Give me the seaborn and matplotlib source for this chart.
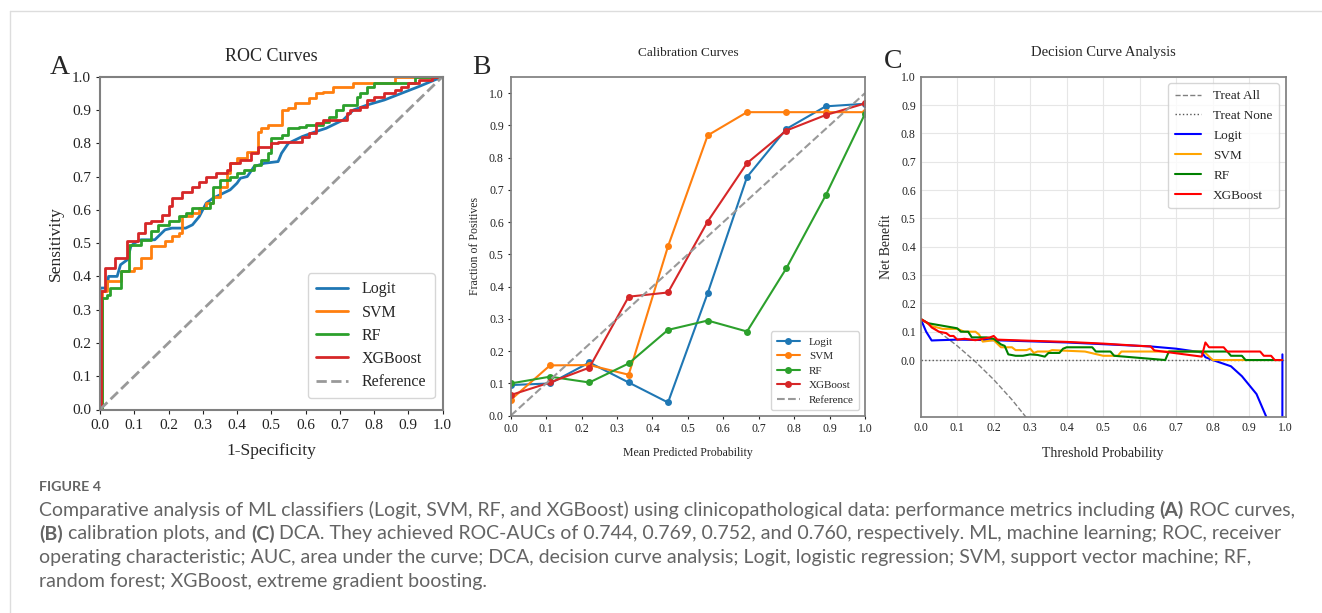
import matplotlib
matplotlib.use("Agg")
import matplotlib.pyplot as plt
import seaborn as sns
from matplotlib.lines import Line2D

# ---- ROC data ----
logit_fpr = [0.0, 0.0, 0.02, 0.025, 0.05, 0.06, 0.08, 0.09, 0.10, 0.12, 0.16, 0.19, 0.21, 0.25, 0.27, 0.29,
             0.31, 0.33, 0.35, 0.37, 0.38, 0.40, 0.41, 0.43, 0.45, 0.48, 0.52, 0.53, 0.55, 0.59, 0.63, 0.66,
             0.69, 0.71, 0.74, 0.78, 0.83, 0.88, 0.93, 1.0]
logit_tpr = [0.0, 0.365, 0.365, 0.40, 0.40, 0.435, 0.45, 0.49, 0.50, 0.51, 0.51, 0.54, 0.545, 0.545, 0.555, 0.58,
             0.62, 0.635, 0.645, 0.655, 0.66, 0.68, 0.695, 0.70, 0.73, 0.74, 0.745, 0.77, 0.80, 0.82, 0.835, 0.845,
             0.86, 0.87, 0.90, 0.915, 0.93, 0.95, 0.97, 1.0]

svm_fpr = [0.0, 0.005, 0.02, 0.06, 0.10, 0.12, 0.15, 0.19, 0.21, 0.23, 0.24, 0.27, 0.29, 0.31, 0.33, 0.35,
           0.37, 0.38, 0.40, 0.43, 0.46, 0.47, 0.49, 0.53, 0.55, 0.57, 0.61, 0.63, 0.65, 0.68, 0.74, 0.86, 1.0]
svm_tpr = [0.0, 0.355, 0.385, 0.415, 0.425, 0.455, 0.49, 0.505, 0.52, 0.53, 0.58, 0.59, 0.605, 0.62, 0.64, 0.67,
           0.71, 0.74, 0.755, 0.775, 0.835, 0.845, 0.855, 0.90, 0.905, 0.92, 0.935, 0.95, 0.955, 0.97, 0.98, 1.0, 1.0]

rf_fpr = [0.0, 0.005, 0.02, 0.03, 0.06, 0.085, 0.12, 0.15, 0.17, 0.20, 0.23, 0.25, 0.27, 0.32, 0.33, 0.35,
          0.38, 0.40, 0.42, 0.45, 0.47, 0.49, 0.50, 0.53, 0.55, 0.58, 0.60, 0.65, 0.67, 0.69, 0.71, 0.73,
          0.75, 0.76, 0.78, 0.80, 0.92, 1.0]
rf_tpr = [0.0, 0.335, 0.345, 0.365, 0.415, 0.495, 0.51, 0.535, 0.555, 0.565, 0.58, 0.59, 0.605, 0.62, 0.67, 0.69,
          0.70, 0.71, 0.72, 0.735, 0.75, 0.77, 0.815, 0.825, 0.845, 0.85, 0.855, 0.865, 0.88, 0.90, 0.915, 0.915,
          0.94, 0.95, 0.97, 0.98, 1.0, 1.0]

xgb_fpr = [0.0, 0.003, 0.015, 0.045, 0.08, 0.11, 0.13, 0.15, 0.18, 0.20, 0.21, 0.24, 0.27, 0.29, 0.31, 0.34,
           0.37, 0.38, 0.41, 0.44, 0.46, 0.50, 0.52, 0.59, 0.61, 0.63, 0.65, 0.68, 0.72, 0.73, 0.76, 0.78,
           0.80, 0.83, 0.86, 0.88, 0.90, 0.93, 0.97, 1.0]
xgb_tpr = [0.0, 0.355, 0.425, 0.455, 0.505, 0.53, 0.56, 0.565, 0.585, 0.61, 0.635, 0.655, 0.67, 0.685, 0.70, 0.71,
           0.72, 0.74, 0.75, 0.77, 0.79, 0.80, 0.805, 0.82, 0.83, 0.86, 0.87, 0.87, 0.89, 0.90, 0.91, 0.93,
           0.94, 0.95, 0.96, 0.97, 0.98, 0.99, 1.0, 1.0]

# ---- calibration data ----
cal_bins = [0.0, 0.111, 0.222, 0.333, 0.444, 0.556, 0.667, 0.778, 0.889, 1.0]
cal_logit = [0.095, 0.100, 0.165, 0.103, 0.041, 0.380, 0.740, 0.889, 0.959, 0.967]
cal_svm = [0.049, 0.156, 0.157, 0.127, 0.525, 0.869, 0.941, 0.941, 0.941, 0.941]
cal_rf = [0.100, 0.121, 0.103, 0.162, 0.266, 0.295, 0.261, 0.457, 0.683, 0.936]
cal_xgb = [0.064, 0.103, 0.149, 0.369, 0.382, 0.602, 0.783, 0.884, 0.932, 0.968]

# ---- decision curve data ----
all_pt = [0.0, 0.05, 0.10, 0.15, 0.20, 0.25, 0.30]
all_nb = [0.145, 0.100, 0.050, -0.006, -0.069, -0.140, -0.220]

dca_logit_pt = [0.0, 0.015, 0.03, 0.05, 0.10, 0.20, 0.40, 0.63, 0.70, 0.77, 0.78, 0.80, 0.85, 0.88, 0.92,
                0.95, 0.97, 0.99, 0.991]
dca_logit_nb = [0.145, 0.10, 0.069, 0.070, 0.072, 0.070, 0.062, 0.048, 0.040, 0.027, 0.010, 0.0, -0.022,
                -0.057, -0.12, -0.21, -0.6, -1.5, 0.02]

dca_svm_pt = [0.0, 0.03, 0.06, 0.10, 0.12, 0.15, 0.16, 0.17, 0.20, 0.22, 0.25, 0.26, 0.29, 0.30, 0.31, 0.32,
              0.35, 0.36, 0.45, 0.50, 0.54, 0.55, 0.77, 0.78, 0.80, 0.89, 0.99]
dca_svm_nb = [0.145, 0.12, 0.11, 0.11, 0.10, 0.10, 0.09, 0.065, 0.07, 0.045, 0.045, 0.035, 0.035, 0.04, 0.025,
              0.03, 0.03, 0.035, 0.03, 0.015, 0.015, 0.03, 0.03, 0.025, 0.0, 0.0, 0.0]

dca_rf_pt = [0.0, 0.02, 0.10, 0.11, 0.13, 0.14, 0.18, 0.20, 0.21, 0.22, 0.23, 0.24, 0.26, 0.28, 0.30, 0.32,
             0.34, 0.35, 0.38, 0.39, 0.40, 0.47, 0.48, 0.52, 0.53, 0.67, 0.68, 0.84, 0.85, 0.88, 0.89, 0.99]
dca_rf_nb = [0.145, 0.13, 0.112, 0.10, 0.10, 0.08, 0.08, 0.075, 0.065, 0.055, 0.05, 0.02, 0.015, 0.015, 0.02,
             0.018, 0.012, 0.025, 0.025, 0.04, 0.045, 0.045, 0.03, 0.03, 0.015, 0.0, 0.03, 0.03, 0.015, 0.015,
             0.0, 0.0]

dca_xgb_pt = [0.0, 0.02, 0.03, 0.05, 0.07, 0.08, 0.09, 0.10, 0.12, 0.15, 0.19, 0.20, 0.21, 0.30, 0.40, 0.50,
              0.60, 0.63, 0.64, 0.77, 0.78, 0.79, 0.83, 0.84, 0.93, 0.94, 0.96, 0.97, 0.99]
dca_xgb_nb = [0.145, 0.13, 0.115, 0.10, 0.095, 0.085, 0.085, 0.072, 0.075, 0.07, 0.08, 0.085, 0.072, 0.068,
              0.064, 0.058, 0.05, 0.048, 0.034, 0.012, 0.062, 0.045, 0.045, 0.03, 0.03, 0.015, 0.015, 0.0, 0.0]

model_names = ["Logit", "SVM", "RF", "XGBoost"]
tab_colors = sns.color_palette("tab10", 4)
dca_colors = ["blue", "orange", "green", "red"]

caption_head = "FIGURE 4"
caption_lines = [
    [("Comparative analysis of ML classifiers (Logit, SVM, RF, and XGBoost) using clinicopathological data: "
      "performance metrics including ", False), ("(A)", True), (" ROC curves,", False)],
    [("(B)", True), (" calibration plots, and ", False), ("(C)", True),
     (" DCA. They achieved ROC-AUCs of 0.744, 0.769, 0.752, and 0.760, respectively. ML, machine learning; "
      "ROC, receiver", False)],
    [("operating characteristic; AUC, area under the curve; DCA, decision curve analysis; Logit, logistic "
      "regression; SVM, support vector machine; RF,", False)],
    [("random forest; XGBoost, extreme gradient boosting.", False)],
]

sns.set_theme(style="white")
plt.rcParams["font.family"] = ["Liberation Serif", "DejaVu Serif"]
plt.rcParams["axes.edgecolor"] = "#808080"
plt.rcParams["xtick.bottom"] = True
plt.rcParams["ytick.left"] = True
plt.rcParams["xtick.color"] = "#222222"
plt.rcParams["ytick.color"] = "#222222"

W, H = 1322, 613
fig = plt.figure(figsize=(W / 100, H / 100), dpi=100)


def px_axes(l, t, r, b):
    return fig.add_axes([l / W, 1 - b / H, (r - l) / W, (b - t) / H])


# ---------- A: ROC ----------
ax1 = px_axes(100, 76.7, 442.5, 409.5)
sns.lineplot(x=logit_fpr, y=logit_tpr, ax=ax1, color=tab_colors[0], lw=2, sort=False, estimator=None,
             label="Logit")
sns.lineplot(x=svm_fpr, y=svm_tpr, ax=ax1, color=tab_colors[1], lw=2, sort=False, estimator=None,
             drawstyle="steps-post", label="SVM")
sns.lineplot(x=rf_fpr, y=rf_tpr, ax=ax1, color=tab_colors[2], lw=2, sort=False, estimator=None,
             drawstyle="steps-post", label="RF")
sns.lineplot(x=xgb_fpr, y=xgb_tpr, ax=ax1, color=tab_colors[3], lw=2, sort=False, estimator=None,
             drawstyle="steps-post", label="XGBoost")
sns.lineplot(x=[0, 1], y=[0, 1], ax=ax1, color="#999999", lw=2, linestyle="--", label="Reference")
ax1.set_xlim(0, 1)
ax1.set_ylim(0, 1)
ax1.set_xticks([i / 10 for i in range(11)])
ax1.set_yticks([i / 10 for i in range(11)])
ax1.tick_params(labelsize=11, length=3, width=0.8)
ax1.set_xlabel("1-Specificity", fontsize=12.5, labelpad=8)
ax1.set_ylabel("Sensitivity", fontsize=12.5, labelpad=6)
ax1.set_title("ROC Curves", fontsize=13, pad=11)
for s in ax1.spines.values():
    s.set_linewidth(1.5)
ax1.legend(loc="lower right", fontsize=11.5, handlelength=2.0, borderpad=0.5, labelspacing=0.45,
           handletextpad=0.9, bbox_to_anchor=(1.0, 0.01))
fig.text(50 / W, 1 - 68 / H, "A", fontsize=20, va="center", ha="left")

# ---------- B: calibration ----------
ax2 = px_axes(510.7, 77, 865, 415.7)
for vals, name, col in zip([cal_logit, cal_svm, cal_rf, cal_xgb], model_names, tab_colors):
    sns.lineplot(x=cal_bins, y=vals, ax=ax2, color=col, lw=1.5, marker="o", markersize=5,
                 markeredgewidth=0, sort=False, estimator=None, label=name)
sns.lineplot(x=[0, 1], y=[0, 1], ax=ax2, color="#999999", lw=1.5, linestyle="--", label="Reference")
ax2.set_xlim(0, 1)
ax2.set_ylim(0, 1.05)
ax2.set_xticks([i / 10 for i in range(11)])
ax2.set_yticks([i / 10 for i in range(11)])
ax2.tick_params(labelsize=8.5, length=2.5, width=0.8, pad=2.5)
ax2.set_xlabel("Mean Predicted Probability", fontsize=8.5, labelpad=9)
ax2.set_ylabel("Fraction of Positives", fontsize=8.5, labelpad=6)
ax2.set_title("Calibration Curves", fontsize=9.5, pad=15)
ax2.legend(loc="lower right", fontsize=8, handlelength=2.1, borderpad=0.5, labelspacing=0.42,
           handletextpad=0.8, bbox_to_anchor=(1.0, 0.0))
fig.text(472 / W, 1 - 67 / H, "B", fontsize=20, va="center", ha="left")

# ---------- C: decision curve ----------
ax3 = px_axes(920.7, 76.7, 1285.7, 416.7)
ax3.grid(True, color="#e6e6e6", lw=0.8)
ax3.set_axisbelow(True)
sns.lineplot(x=all_pt, y=all_nb, ax=ax3, color="gray", lw=1, linestyle="--", sort=False, estimator=None,
             label="Treat All")
sns.lineplot(x=[0, 1], y=[0, 0], ax=ax3, color="#555555", lw=1, linestyle=":", label="Treat None")
for (pt, nb), name, col in zip([(dca_logit_pt, dca_logit_nb), (dca_svm_pt, dca_svm_nb),
                                 (dca_rf_pt, dca_rf_nb), (dca_xgb_pt, dca_xgb_nb)], model_names, dca_colors):
    sns.lineplot(x=pt, y=nb, ax=ax3, color=col, lw=1.5, sort=False, estimator=None, label=name)
ax3.set_xlim(0, 1)
ax3.set_ylim(-0.2, 1.0)
ax3.set_xticks([i / 10 for i in range(11)])
ax3.set_yticks([i / 10 for i in range(11)])
ax3.tick_params(labelsize=8.5, length=0)
ax3.set_xlabel("Threshold Probability", fontsize=10, labelpad=10)
ax3.set_ylabel("Net Benefit", fontsize=10, labelpad=6)
ax3.set_title("Decision Curve Analysis", fontsize=10.5, pad=15)
ax3.legend(loc="upper right", fontsize=9.5, handlelength=2.0, borderpad=0.5, labelspacing=0.58,
           handletextpad=0.9, bbox_to_anchor=(1.0, 1.0))
fig.text(884 / W, 1 - 62 / H, "C", fontsize=20, va="center", ha="left")

# ---------- page frame and caption ----------
fig.add_artist(Line2D([10 / W, 1], [1 - 11 / H, 1 - 11 / H], transform=fig.transFigure, color="#dddddd", lw=1))
fig.add_artist(Line2D([10 / W, 10 / W], [0, 1 - 11 / H], transform=fig.transFigure, color="#dddddd", lw=1))

cap_color = "#646464"
fig.text(39 / W, 1 - 487 / H, caption_head, fontsize=10.3, color=cap_color, va="center",
         fontweight="bold", family=["Lato", "DejaVu Sans"])
renderer = fig.canvas.get_renderer()
for i, parts in enumerate(caption_lines):
    x = 39 / W
    y = 1 - (510 + 24 * i) / H
    for txt, bold in parts:
        t = fig.text(x, y, txt, fontsize=14, color=cap_color, va="center",
                     fontweight="bold" if bold else "normal", family=["Lato", "DejaVu Sans"])
        x += t.get_window_extent(renderer=renderer).width / W

fig.savefig("out.png", dpi=100)
